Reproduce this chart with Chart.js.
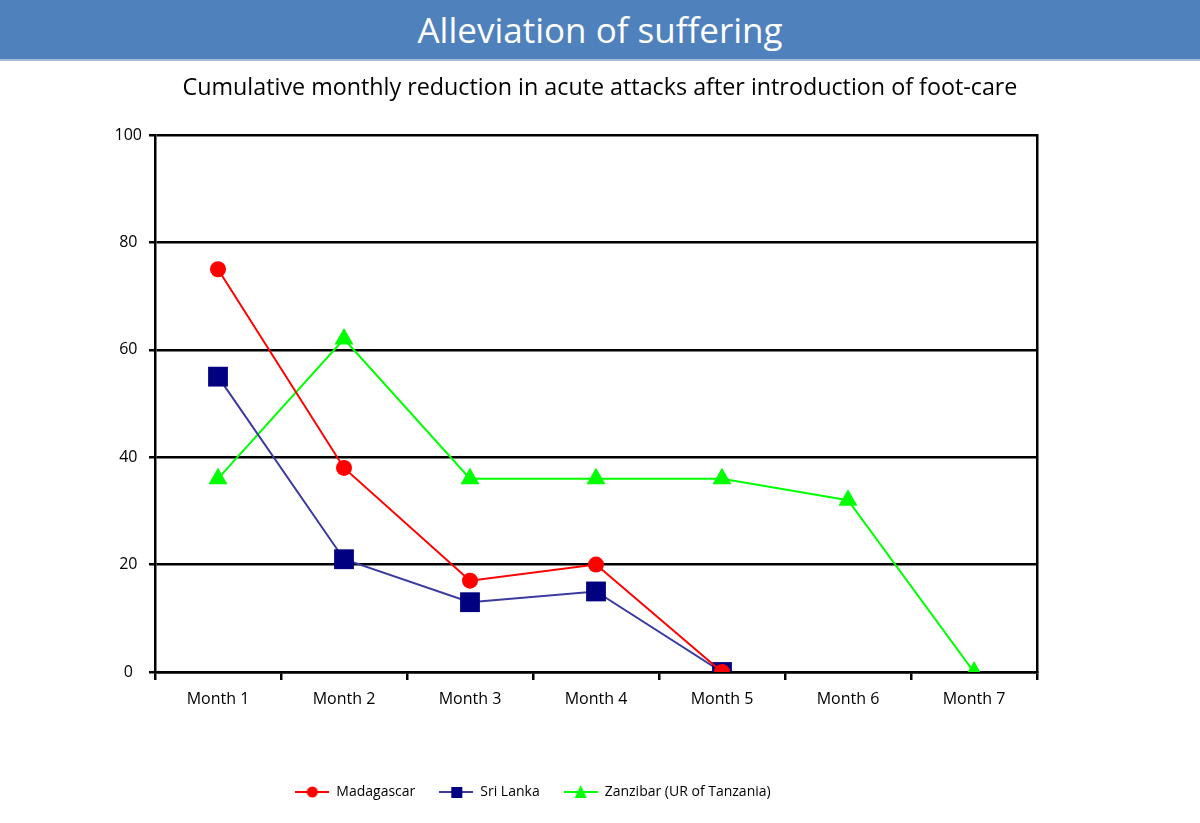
<!DOCTYPE html>
<html>
<head>
<meta charset="utf-8">
<title>Alleviation of suffering</title>
<script src="https://cdn.jsdelivr.net/npm/chart.js@4/dist/chart.umd.min.js"></script>
<style>
    body { margin: 0; background: #fff; }
    #wrap { position: relative; width: 1200px; height: 823px; overflow: hidden; }
    #header {
        position: absolute; left: 0; top: 0; width: 1200px; height: 59px;
        background: #4f81bd; border-bottom: 2px solid #a7bcd9;
        color: #fff; font-family: 'Open Sans', sans-serif; font-size: 35px;
        line-height: 59px; text-align: center; z-index: 2;
    }
    #sub {
        position: absolute; left: 0; top: 70px; width: 1200px; text-align: center;
        font-family: 'Open Sans', sans-serif; font-size: 23.3px; color: #000; z-index: 2;
    }
    #chart { position: absolute; left: 0; top: 0; }
</style>
</head>
<body>
<div id="wrap">
    <div id="header">Alleviation of suffering</div>
    <div id="sub">Cumulative monthly reduction in acute attacks after introduction of foot-care</div>
    <canvas id="chart" width="1200" height="823"></canvas>
</div>
<script>
// Data
const months = ['Month 1', 'Month 2', 'Month 3', 'Month 4', 'Month 5', 'Month 6', 'Month 7'];
const yTicks = [0, 20, 40, 60, 80, 100];
const seriesNames = ['Madagascar', 'Sri Lanka', 'Zanzibar (UR of Tanzania)'];
const madagascar = [75, 38, 17, 20, 0];
const sriLanka = [55, 21, 13, 15, 0];
const zanzibar = [36, 62, 36, 36, 36, 32, 0];

const RED = '#ff0000';
const NAVY = '#000080';
const NAVY_LINE = '#3a3aa0';
const GREEN = '#00ff00';
const FONT = "'Open Sans', sans-serif";

// small line + marker pictures for the legend
function legendIcon(color, lineColor, shape) {
    const c = document.createElement('canvas');
    c.width = 34;
    c.height = 16;
    const g = c.getContext('2d');
    g.strokeStyle = lineColor;
    g.lineWidth = 2;
    g.beginPath();
    g.moveTo(0, 8);
    g.lineTo(34, 8);
    g.stroke();
    g.fillStyle = color;
    g.beginPath();
    if (shape === 'circle') {
        g.arc(17, 8, 5.5, 0, Math.PI * 2);
    } else if (shape === 'rect') {
        g.rect(12, 3, 11, 11);
    } else {
        g.moveTo(17, 1);
        g.lineTo(23, 14);
        g.lineTo(11, 14);
        g.closePath();
    }
    g.fill();
    return c;
}

const icons = [
    legendIcon(RED, RED, 'circle'),
    legendIcon(NAVY, NAVY_LINE, 'rect'),
    legendIcon(GREEN, GREEN, 'triangle')
];

const ctx = document.getElementById('chart').getContext('2d');
const chart = new Chart(ctx, {
    type: 'line',
    data: {
        labels: months,
        datasets: [
            {
                label: seriesNames[0],
                data: madagascar,
                borderColor: RED,
                backgroundColor: RED,
                borderWidth: 2,
                pointStyle: 'circle',
                pointRadius: 8,
                pointBorderWidth: 0,
                tension: 0
            },
            {
                label: seriesNames[1],
                data: sriLanka,
                borderColor: NAVY_LINE,
                backgroundColor: NAVY,
                borderWidth: 2,
                pointStyle: 'rect',
                pointRadius: 14,
                pointBorderWidth: 0,
                tension: 0
            },
            {
                label: seriesNames[2],
                data: zanzibar,
                borderColor: GREEN,
                backgroundColor: GREEN,
                borderWidth: 2,
                pointStyle: 'triangle',
                pointRadius: 11,
                pointBorderWidth: 0,
                tension: 0
            }
        ]
    },
    options: {
        responsive: false,
        animation: false,
        layout: {
            padding: { top: 135, right: 134, bottom: 14, left: 0 }
        },
        scales: {
            x: {
                offset: true,
                grid: {
                    offset: true,
                    drawOnChartArea: false,
                    drawTicks: true,
                    tickLength: 8,
                    color: '#000',
                    lineWidth: 2.5
                },
                border: { display: true, color: '#000', width: 2.5 },
                ticks: {
                    color: '#000',
                    padding: 10,
                    maxRotation: 0,
                    font: { family: FONT, size: 16 }
                },
                afterFit: function(scale) {
                    scale.height = 89;
                }
            },
            y: {
                min: 0,
                max: 100,
                afterBuildTicks: function(scale) {
                    scale.ticks = yTicks.map(v => ({ value: v }));
                },
                grid: {
                    color: '#000',
                    lineWidth: 2.5,
                    tickLength: 6
                },
                border: { display: true, color: '#000', width: 2.5 },
                ticks: {
                    color: '#000',
                    padding: 7,
                    crossAlign: 'center',
                    font: { family: FONT, size: 16 }
                },
                afterFit: function(scale) {
                    scale.width = 155;
                }
            },
            frame: {
                position: 'right',
                display: true,
                grid: { drawOnChartArea: false, drawTicks: false },
                border: { display: true, color: '#000', width: 2.5 },
                ticks: { display: false },
                afterFit: function(scale) {
                    scale.width = 29;
                }
            }
        },
        plugins: {
            title: { display: false },
            tooltip: { enabled: false },
            legend: {
                position: 'bottom',
                labels: {
                    usePointStyle: true,
                    pointStyleWidth: 34,
                    padding: 24,
                    color: '#000',
                    font: { family: FONT, size: 14 },
                    generateLabels: function(chart) {
                        return chart.data.datasets.map((ds, i) => ({
                            text: ds.label,
                            pointStyle: icons[i],
                            fillStyle: ds.backgroundColor,
                            strokeStyle: ds.borderColor,
                            lineWidth: 0,
                            hidden: false,
                            datasetIndex: i,
                            fontColor: '#000'
                        }));
                    }
                }
            }
        }
    }
});
</script>
</body>
</html>
